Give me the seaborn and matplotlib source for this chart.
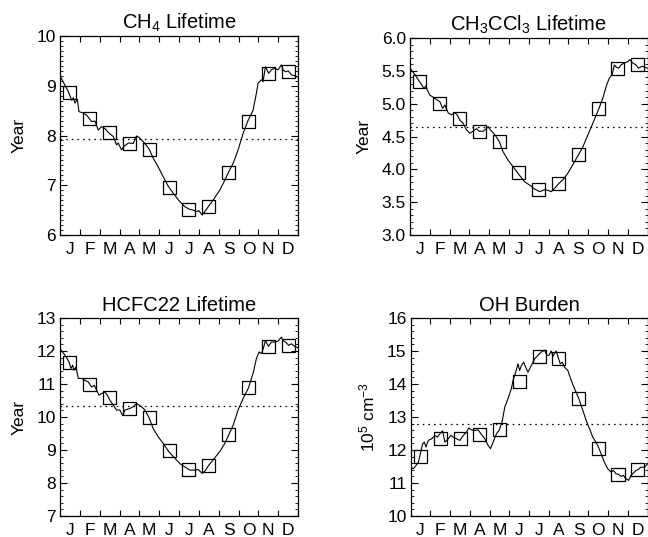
import numpy as np
import pandas as pd
import matplotlib
matplotlib.use("Agg")
import matplotlib.pyplot as plt
from matplotlib.ticker import MultipleLocator, FixedLocator, NullFormatter, FixedFormatter
import seaborn as sns

# ---------------- data ----------------
months = ["J", "F", "M", "A", "M", "J", "J", "A", "S", "O", "N", "D"]

ch4_days = [0, 6, 12.8, 17.9, 20.4, 23, 26.5, 29.1, 35.7, 40.8, 48.5, 53.6, 58.7, 63.8, 68.9, 75,
            81.7, 86.8, 89.3, 94.4, 98, 105, 112.3, 117.4, 121.5, 125, 130.2, 137, 143, 150.6, 158.3,
            166, 173.6, 183.8, 191.4, 198, 204.2, 209.3, 212.9, 218, 222.1, 228, 234.8, 245, 252.7,
            258, 265.5, 273.1, 280.8, 288, 296.1, 301.2, 303.7, 308.9, 311.4, 315, 320, 324.2, 329.3,
            334.4, 339.5, 342, 346.1, 350, 354.8, 359.9, 365]
ch4_vals = [9.20, 9.05, 8.88, 8.71, 8.76, 8.65, 8.73, 8.48, 8.45, 8.41, 8.28, 8.29, 8.11, 8.18, 8.14, 8.05,
            7.98, 7.81, 7.85, 7.71, 7.78, 7.85, 7.84, 7.99, 7.96, 7.91, 7.84, 7.72, 7.54, 7.37, 7.17,
            6.98, 6.84, 6.67, 6.57, 6.52, 6.50, 6.47, 6.49, 6.40, 6.47, 6.58, 6.70, 6.90, 7.10,
            7.25, 7.44, 7.71, 8.04, 8.29, 8.51, 8.85, 9.05, 9.12, 9.08, 9.38, 9.25, 9.32, 9.35,
            9.32, 9.42, 9.32, 9.28, 9.30, 9.22, 9.20, 9.17]
ch4_monthly = [8.87, 8.35, 8.06, 7.83, 7.71, 6.96, 6.52, 6.58, 7.25, 8.29, 9.24, 9.28]
ch4_mean = 7.92

mcf_days = [0, 7.7, 14.3, 17.9, 21.4, 24.5, 26.5, 30.6, 38.3, 45.9, 50, 53.6, 58.7, 63.8, 68.9, 72.5,
            76.6, 81.7, 86.8, 91.9, 97, 102.1, 106.2, 112.3, 117.4, 120, 123.5, 130.2, 137.3, 142.9,
            150.6, 158.3, 167.4, 176.1, 183.8, 191.4, 199.1, 206.8, 211.9, 217, 222.1, 228.2, 234.8,
            242.5, 250.1, 259.3, 265.5, 273.1, 280.8, 290, 296.1, 302.2, 306.3, 310.4, 314, 316.5,
            320.6, 324.2, 329.3, 334.4, 338, 342, 347.1, 351.2, 356.3, 365]
mcf_vals = [5.54, 5.44, 5.34, 5.29, 5.23, 5.27, 5.21, 5.13, 5.08, 5.03, 4.93, 4.98, 4.86, 4.83, 4.86, 4.83,
            4.75, 4.70, 4.60, 4.55, 4.58, 4.62, 4.58, 4.58, 4.62, 4.65, 4.60, 4.53, 4.42, 4.27,
            4.14, 4.04, 3.92, 3.81, 3.76, 3.70, 3.66, 3.69, 3.68, 3.66, 3.71, 3.78, 3.84,
            3.94, 4.07, 4.23, 4.34, 4.52, 4.70, 4.92, 5.08, 5.29, 5.39, 5.44, 5.59, 5.56,
            5.54, 5.59, 5.62, 5.64, 5.67, 5.62, 5.59, 5.54, 5.57, 5.54]
mcf_monthly = [5.34, 5.00, 4.77, 4.58, 4.42, 3.95, 3.69, 3.79, 4.23, 4.92, 5.54, 5.59]
mcf_mean = 4.64

hcfc_days = [0, 7.7, 13.8, 16.8, 19.4, 21.4, 24.5, 28.1, 33.2, 38.3, 43.4, 48.5, 52.6, 56.2, 59.7, 63.8,
             68.9, 72.5, 76.6, 81.7, 86.8, 91.9, 96, 99.5, 107.2, 112.3, 117.4, 121.5, 125.1, 130.2,
             136.3, 142.9, 150.6, 158.3, 166.9, 176.1, 183.8, 191.4, 199.1, 206.8, 211.9, 218, 222.1,
             228.2, 234.8, 245, 252.7, 258.8, 265.5, 273.1, 280.8, 289, 296.1, 301.2, 305.3, 308.9,
             312.5, 315, 319.6, 324.2, 329.3, 334.4, 339.5, 342, 346.1, 350.7, 354.8, 359.9, 365]
hcfc_vals = [12.07, 11.87, 11.67, 11.47, 11.57, 11.42, 11.52, 11.17, 11.17, 11.11, 11.06, 10.91, 10.96, 10.81, 10.66, 10.71,
             10.76, 10.66, 10.51, 10.36, 10.21, 10.21, 10.04, 10.21, 10.26, 10.31, 10.41, 10.36, 10.31, 10.21,
             9.99, 9.65, 9.40, 9.20, 8.95, 8.75, 8.59, 8.49, 8.39, 8.39, 8.41, 8.29, 8.36,
             8.54, 8.70, 8.95, 9.20, 9.46, 9.75, 10.21, 10.56, 10.88, 11.32, 11.77, 11.97, 11.92,
             12.12, 12.32, 12.14, 12.27, 12.27, 12.30, 12.42, 12.32, 12.27, 12.17, 12.22, 12.14, 12.10]
hcfc_monthly = [11.66, 10.98, 10.58, 10.26, 9.99, 8.99, 8.41, 8.54, 9.46, 10.88, 12.14, 12.17]
hcfc_mean = 10.34

oh_days = [0, 4.1, 8.2, 11.8, 14.3, 18.4, 21, 23.5, 27.1, 32.3, 37.4, 41, 45, 49.1, 52.7, 57.8, 61.9,
           65.5, 70.6, 75.8, 80.9, 86, 89.6, 93.7, 98.8, 103.9, 109, 114.2, 119.3, 122.9, 127, 132.1,
           136.7, 141.3, 144.9, 150, 155.1, 157.7, 161.8, 165.3, 167.9, 170.5, 174, 177.1, 180.7,
           185.8, 190.9, 196.1, 201.2, 206.3, 209.9, 212.9, 216.5, 219.1, 224.2, 227.8, 230.4, 233.4,
           237, 242.1, 247.3, 252.4, 259, 265.2, 270.3, 275.4, 280.5, 288.2, 293.3, 298.4, 303.6,
           308.7, 312.3, 316.4, 320.5, 324, 327.6, 331.7, 335.8, 339.4, 343, 347.1, 350.7, 354.7,
           359.9, 365]
oh_vals = [11.48, 11.43, 11.53, 11.63, 11.83, 12.19, 12.24, 12.09, 12.29, 12.34, 12.44, 12.39, 12.49, 12.58, 12.24, 12.34, 12.44,
           12.39, 12.34, 12.29, 12.44, 12.54, 12.67, 12.61, 12.59, 12.61, 12.47, 12.34, 12.14, 12.04, 12.24, 12.49,
           12.61, 12.90, 13.30, 13.56, 13.86, 14.11, 14.36, 14.61, 14.41, 14.56, 14.66, 14.51, 14.36,
           14.56, 14.76, 14.87, 14.97, 15.02, 14.87, 14.87, 15.00, 14.84, 15.00, 14.77, 14.61, 14.66,
           14.51, 14.41, 14.11, 13.86, 13.56, 13.20, 12.90, 12.65, 12.39, 12.14, 11.89, 11.63, 11.43,
           11.33, 11.38, 11.28, 11.26, 11.20, 11.23, 11.13, 11.08, 11.23, 11.30, 11.38, 11.41, 11.48,
           11.48, 11.58]
oh_monthly = [11.81, 12.36, 12.36, 12.47, 12.62, 14.08, 14.84, 14.77, 13.56, 12.06, 11.25, 11.41]
oh_mean = 12.80

# ---------------- style ----------------
sns.set_style("ticks")
plt.rcParams["font.family"] = ["Liberation Sans", "DejaVu Sans"]
plt.rcParams["mathtext.fontset"] = "custom"
plt.rcParams["mathtext.rm"] = "Liberation Sans"
plt.rcParams["mathtext.it"] = "Liberation Sans:italic"
plt.rcParams["mathtext.bf"] = "Liberation Sans:bold"
plt.rcParams["mathtext.default"] = "regular"
for key in ["text.color", "axes.labelcolor", "xtick.color", "ytick.color", "axes.edgecolor"]:
    plt.rcParams[key] = "black"

fig = plt.figure(figsize=(6.48, 5.37), dpi=100)

W, H = 648.0, 537.0
def rect(l, r, t, b):
    return [l / W, 1 - b / H, (r - l) / W, (b - t) / H]

panels = [
    dict(rect=rect(60, 298, 36, 235), days=ch4_days, vals=ch4_vals, monthly=ch4_monthly, mean=ch4_mean,
         ylim=(6, 10), major=1, minor=0.1, fmt="{:.0f}", title="CH$_4$ Lifetime", ylabel="Year"),
    dict(rect=rect(410, 647.6, 38, 235), days=mcf_days, vals=mcf_vals, monthly=mcf_monthly, mean=mcf_mean,
         ylim=(3, 6), major=0.5, minor=0.1, fmt="{:.1f}", title="CH$_3$CCl$_3$ Lifetime", ylabel="Year"),
    dict(rect=rect(60, 298, 318, 516), days=hcfc_days, vals=hcfc_vals, monthly=hcfc_monthly, mean=hcfc_mean,
         ylim=(7, 13), major=1, minor=0.2, fmt="{:.0f}", title="HCFC22 Lifetime", ylabel="Year"),
    dict(rect=rect(410.7, 647.6, 318, 516), days=oh_days, vals=oh_vals, monthly=oh_monthly, mean=oh_mean,
         ylim=(10, 16), major=1, minor=0.2, fmt="{:.0f}", title="OH Burden", ylabel="10$^5$ cm$^{-3}$"),
]

bounds = [i * 365.0 / 12 for i in range(13)]
mids = [(bounds[i] + bounds[i + 1]) / 2 for i in range(12)]

for p in panels:
    ax = fig.add_axes(p["rect"])
    df = pd.DataFrame({"day": p["days"], "val": p["vals"]})
    sns.lineplot(data=df, x="day", y="val", ax=ax, color="black", linewidth=0.8, sort=False)
    mdf = pd.DataFrame({"day": mids, "val": p["monthly"]})
    sns.scatterplot(data=mdf, x="day", y="val", ax=ax, marker="s", s=88,
                    facecolor="none", edgecolor="black", linewidth=0.9, zorder=3)
    ax.axhline(p["mean"], color="black", linewidth=0.9, linestyle=(0, (1.3, 3.2)))

    ax.set_xlim(0, 365)
    ax.set_ylim(*p["ylim"])
    ax.xaxis.set_major_locator(FixedLocator(bounds))
    ax.xaxis.set_major_formatter(NullFormatter())
    ax.xaxis.set_minor_locator(FixedLocator(mids))
    ax.xaxis.set_minor_formatter(FixedFormatter(months))
    ax.tick_params(axis="x", which="major", direction="in", length=4.5, width=0.8, top=True, bottom=True,
                   color="black")
    ax.tick_params(axis="x", which="minor", length=0, pad=5, labelsize=12.5, labelcolor="black")

    ax.yaxis.set_major_locator(MultipleLocator(p["major"]))
    ax.yaxis.set_minor_locator(MultipleLocator(p["minor"]))
    ax.yaxis.set_major_formatter(matplotlib.ticker.FuncFormatter(lambda v, pos, f=p["fmt"]: f.format(v)))
    ax.tick_params(axis="y", which="major", direction="in", length=5, width=0.8, left=True, right=True,
                   labelsize=12.5, pad=3, color="black", labelcolor="black")
    ax.tick_params(axis="y", which="minor", direction="in", length=2.5, width=0.6, left=True, right=True,
                   color="black")

    for s in ax.spines.values():
        s.set_visible(True)
        s.set_linewidth(0.9)
        s.set_color("black")

    ax.set_xlabel("")
    ax.set_ylabel(p["ylabel"], fontsize=12.5, labelpad=7, color="black")
    ax.set_title(p["title"], fontsize=14.5, pad=5, color="black")

fig.savefig("out.png", dpi=100)
